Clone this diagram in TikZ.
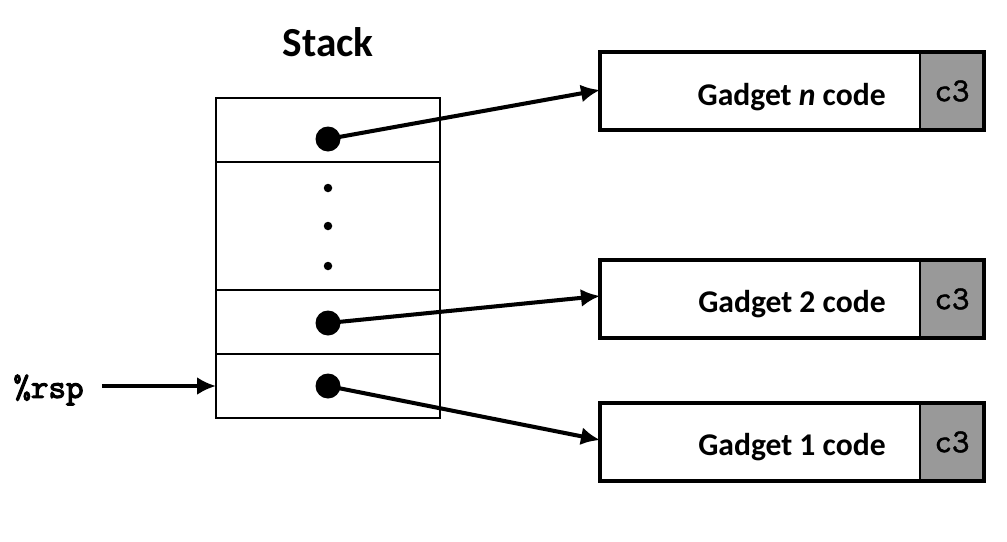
\documentclass[tikz,border=0pt]{standalone}
\usepackage{fontspec}
\setmainfont{Carlito}
\newfontfamily\retfont[Extension=.otf, AutoFakeBold=1.4]{lmmono10-regular}
\newfontfamily\rspfont[Extension=.otf, AutoFakeBold=3.2]{lmmono10-regular}
\usepackage{tikz}
\usetikzlibrary{arrows.meta}
\usetikzlibrary{positioning}
\tikzset{>={Latex[length=0.38cm,width=0.36cm]}}
\tikzstyle{cell} = [rectangle, draw=black, line width=1.1pt, minimum width=4.48cm, minimum height=1.28cm, inner sep=0pt, outer sep=0pt]
\tikzstyle{gadget} = [rectangle, draw=black, line width=1.8pt, minimum width=7.68cm, minimum height=1.56cm, inner sep=0pt, outer sep=0pt]
\tikzstyle{ret} = [rectangle, draw=black, line width=1.1pt, fill=black!40, minimum width=1.28cm, minimum height=1.56cm, inner sep=0pt, outer sep=0pt, font=\fontsize{19}{20}\selectfont\retfont\bfseries]
\tikzstyle{gname} = [inner sep=0pt, font=\fontsize{18}{20}\selectfont\bfseries]
\tikzstyle{bigdot} = [circle, fill=black, minimum size=0.5cm, inner sep=0pt]
\tikzstyle{smalldot} = [circle, fill=black, minimum size=0.17cm, inner sep=0pt]
\tikzstyle{ptr} = [->, line width=2.3pt]

\begin{document}
\begin{tikzpicture}
\useasboundingbox (0,0) rectangle (20.14,-10.82);
\node [font=\fontsize{23.5}{26}\selectfont\bfseries] (title) at (6.56,-0.84) {Stack};
% stack cells
\node [cell] (cn) at (6.56,-2.6) {};
\node [cell, minimum height=2.56cm, below=0pt of cn] (cdots) {};
\node [cell, below=0pt of cdots] (c2) {};
\node [cell, below=0pt of c2] (c1) {};
\node [smalldot] (s1) at (6.56,-3.76) {};
\node [smalldot] (s2) at (6.56,-4.52) {};
\node [smalldot] (s3) at (6.56,-5.32) {};
% gadgets
\node [ret] (rn) at (19.04,-1.82) {c3};
\node [gadget] (gn) at (15.84,-1.82) {};
\node [gname, anchor=east] (tn) at ([xshift=-1.96cm,yshift=-0.12cm]gn.east) {Gadget \textit{n} code};
\node [ret] (r2) at (19.04,-5.98) {c3};
\node [gadget] (g2) at (15.84,-5.98) {};
\node [gname, anchor=east] (t2) at ([xshift=-1.96cm,yshift=-0.1cm]g2.east) {Gadget 2 code};
\node [ret] (r1) at (19.04,-8.84) {c3};
\node [gadget] (g1) at (15.84,-8.84) {};
\node [gname, anchor=east] (t1) at ([xshift=-1.96cm,yshift=-0.1cm]g1.east) {Gadget 1 code};
% pointers
\node [bigdot] (dn) at (6.56,-2.78) {};
\node [bigdot] (d2) at (6.56,-6.46) {};
\node [bigdot] (d1) at (6.56,-7.72) {};
\draw [ptr] (dn.center) to ([yshift=0.02cm]gn.west);
\draw [ptr] (d2.center) to ([yshift=0.06cm]g2.west);
\draw [ptr] (d1.center) to ([yshift=0.04cm]g1.west);
\node [font=\fontsize{19}{20}\selectfont\rspfont\bfseries, inner sep=0pt] (rsp) at (0.97,-7.8) {\%rsp};
\draw [ptr] ([xshift=0.36cm]rsp.east |- c1.west) to (c1.west);
\end{tikzpicture}
\end{document}
